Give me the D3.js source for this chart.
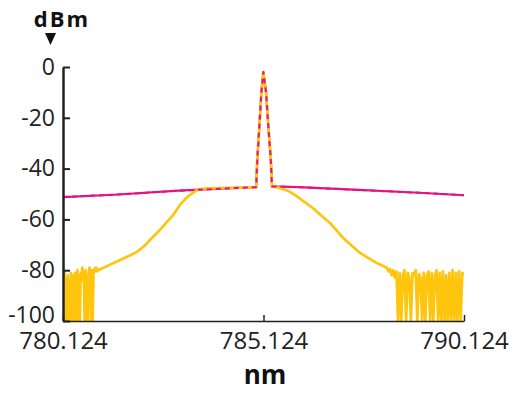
<!DOCTYPE html>
<html>
<head>
<meta charset="utf-8">
<script src="https://cdn.jsdelivr.net/npm/d3@7"></script>
<style>
  body { margin: 0; background: #fff; }
  svg { display: block; }
</style>
</head>
<body>
<svg id="chart" width="523" height="398"></svg>
<script>
// wavelength (nm) / power (dBm)
const pumpNm = [780.124, 781.5, 783.0, 784.5, 784.94, 784.97, 785.02, 785.07, 785.12, 785.19, 785.245, 785.305, 785.336, 786.0, 787.5, 789.0, 790.124]
const pumpDb = [-51.2, -50.2, -48.7, -47.6, -47.3, -36.2, -23.6, -10.2, -2, -10.2, -23.6, -36.2, -47.0, -47.3, -48.4, -49.5, -50.5]

const leftNoiseNm = [780.124, 780.144, 780.164, 780.184, 780.204, 780.224, 780.244, 780.264, 780.284, 780.304, 780.324, 780.344, 780.364, 780.384, 780.404, 780.424, 780.444, 780.464, 780.484, 780.504, 780.524, 780.544, 780.564, 780.584, 780.604, 780.624, 780.644, 780.664, 780.684, 780.704, 780.724, 780.744, 780.764, 780.784, 780.804, 780.824, 780.844, 780.864, 780.884, 780.904, 780.924, 780.944, 780.964, 780.984, 781.004]
const leftNoiseDb = [-76, -100, -81, -100, -83, -100, -82, -100, -84, -100, -81, -100, -83, -82, -100, -81, -100, -84, -80, -100, -82, -100, -81, -83, -79, -84, -81, -100, -80, -100, -82, -100, -81, -79, -83, -100, -80, -100, -81, -79.5, -80.5, -79, -80.5, -79.5, -80]

const coreNm = [781.12, 781.3, 781.55, 781.75, 781.97, 782.15, 782.29, 782.54, 782.7, 782.87, 783.04, 783.17, 783.29, 783.47, 783.7, 784.5, 784.94, 784.97, 785.02, 785.07, 785.12, 785.19, 785.245, 785.305, 785.336, 785.53, 785.75, 785.91, 786.18, 786.36, 786.78, 787.11, 787.53, 787.95]
const coreDb = [-79.1, -77.8, -76, -74.5, -72.8, -70.5, -68.1, -64.2, -61.3, -58.3, -54.3, -52, -50.4, -48.4, -47.8, -47.5, -47.3, -36.2, -23.6, -10.2, -2, -10.2, -23.6, -36.2, -47.0, -47.6, -48.8, -50.4, -53.5, -55.6, -61.4, -67.3, -73.2, -77.2]

const rightNoiseNm = [788.20, 788.24, 788.28, 788.32, 788.36, 788.40, 788.44, 788.48, 788.52, 788.56, 788.60, 788.64, 788.68, 788.72, 788.76, 788.80, 788.84, 788.88, 788.92, 788.96, 789.00, 789.04, 789.08, 789.12, 789.16, 789.20, 789.24, 789.28, 789.32, 789.36, 789.40, 789.44, 789.48, 789.52, 789.56, 789.60, 789.64, 789.68, 789.72, 789.76, 789.80, 789.84, 789.88, 789.92, 789.96, 790.00, 790.04, 790.08, 790.124]
const rightNoiseDb = [-79, -80.5, -79.5, -82, -80, -83, -80.5, -100, -81, -100, -82, -80, -100, -81, -83, -100, -81, -82, -80, -100, -81.5, -83, -100, -81, -100, -82, -80.5, -100, -81, -100, -82, -80, -100, -81, -100, -80.5, -100, -82, -100, -81, -100, -80, -100, -81, -100, -80.5, -100, -81, -82]

const yTicks = [0, -20, -40, -60, -80, -100]
const xTicks = [780.124, 785.124, 790.124]

const svg = d3.select("#chart")
const font = "'Open Sans', 'DejaVu Sans', sans-serif"

const x = d3.scaleLinear().domain([780.124, 790.124]).range([63, 464])
const y = d3.scaleLinear().domain([-100, 0]).range([321, 67])

const zip = (a, b) => a.map((v, i) => [v, b[i]])
const pump = zip(pumpNm, pumpDb)
const seed = zip(leftNoiseNm, leftNoiseDb).concat(zip(coreNm, coreDb), zip(rightNoiseNm, rightNoiseDb))

svg.append("clipPath").attr("id", "plot")
  .append("rect").attr("x", 63).attr("y", 55).attr("width", 401).attr("height", 266)

const line = d3.line().x(d => x(d[0])).y(d => y(d[1]))
const P = svg.append("g").attr("clip-path", "url(#plot)")

P.append("path").attr("d", line(pump))
  .style("fill", "none").style("stroke", "#e3147f").style("stroke-width", 2.2)
  .style("stroke-linejoin", "round")

P.append("path").attr("d", line(seed))
  .style("fill", "none").style("stroke", "#ffc50d").style("stroke-width", 2.7)
  .style("stroke-linejoin", "round")

// pump drawn again dashed so the shared part looks interleaved
P.append("path").attr("d", line(pump))
  .style("fill", "none").style("stroke", "#e3147f").style("stroke-width", 2)
  .style("stroke-dasharray", "5,4")
  .style("stroke-linejoin", "round")

// axes
const gy = svg.append("g").attr("transform", "translate(63,0)")
  .call(d3.axisLeft(y).tickValues(yTicks).tickSizeInner(-7).tickSizeOuter(0).tickPadding(8).tickFormat(d => String(d)))
gy.select(".domain").style("stroke", "#222").style("stroke-width", 2.5)
gy.selectAll(".tick line").style("stroke", "#222").style("stroke-width", 2)
gy.selectAll("text").style("font-family", font).style("font-size", "23px").style("fill", "#222")
// bottom label sits on the baseline, as in the original
gy.selectAll(".tick").filter(d => d === -100).select("text").attr("dy", "0.05em")

const gx = svg.append("g").attr("transform", "translate(0,321)")
  .call(d3.axisBottom(x).tickValues(xTicks).tickSizeInner(-6).tickSizeOuter(0).tickPadding(11).tickFormat(d3.format(".3f")))
gx.select(".domain").style("stroke", "#222").style("stroke-width", 1.5)
gx.selectAll(".tick line").style("stroke", "#222").style("stroke-width", 1.5)
gx.selectAll("text").style("font-family", font).style("font-size", "24px").style("fill", "#222")

// axis titles
svg.append("text").attr("x", 62).attr("y", 27).attr("text-anchor", "middle")
  .style("font-family", font).style("font-weight", "bold").style("font-size", "22px")
  .style("letter-spacing", "2px").style("fill", "#111").text("dBm")
svg.append("path").attr("d", "M45,33 L56,33 L50.5,45 Z").style("fill", "#111")

svg.append("text").attr("x", 265).attr("y", 384).attr("text-anchor", "middle")
  .style("font-family", font).style("font-weight", "bold").style("font-size", "26px")
  .style("fill", "#111").text("nm")
</script>
</body>
</html>
